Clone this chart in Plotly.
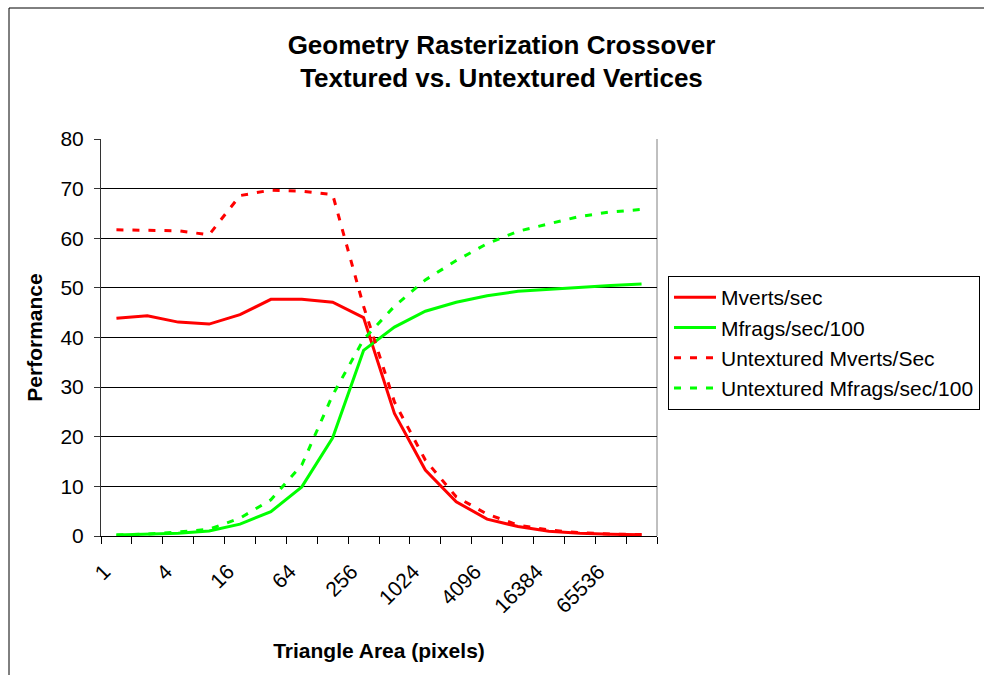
import plotly.graph_objects as go

# ---- data ----
areas = ["1", "2", "4", "8", "16", "32", "64", "128", "256", "512", "1024",
         "2048", "4096", "8192", "16384", "32768", "65536", "131072"]
mverts = [43.9, 44.4, 43.1, 42.7, 44.6, 47.7, 47.7, 47.1, 44.0, 24.7, 13.3,
          6.9, 3.4, 1.9, 0.95, 0.54, 0.34, 0.26]
mfrags = [0.2, 0.33, 0.54, 1.0, 2.4, 4.9, 9.9, 19.8, 37.4, 42.1, 45.3,
          47.1, 48.4, 49.3, 49.7, 50.2, 50.5, 50.8]
unt_mverts = [61.7, 61.6, 61.5, 60.7, 68.6, 69.7, 69.5, 68.8, 46.3, 27.0, 15.3,
              7.9, 4.4, 2.2, 1.2, 0.67, 0.4, 0.3]
unt_mfrags = [0.2, 0.4, 0.8, 1.35, 3.6, 7.3, 14.3, 28.4, 39.6, 46.3, 51.6,
              55.5, 58.9, 61.4, 62.9, 64.4, 65.3, 65.8]
series_names = ["Mverts/sec", "Mfrags/sec/100",
                "Untextured Mverts/Sec", "Untextured Mfrags/sec/100"]
label_every = 2

FONT = "Liberation Sans, Arial, Helvetica, sans-serif"
RED = "#FF0000"
GREEN = "#00FF00"
DASH = "7px,9px"

xidx = list(range(len(areas)))

fig = go.Figure()
for name, vals, color, dash in [
    (series_names[0], mverts, RED, "solid"),
    (series_names[1], mfrags, GREEN, "solid"),
    (series_names[2], unt_mverts, RED, DASH),
    (series_names[3], unt_mfrags, GREEN, DASH),
]:
    fig.add_trace(go.Scatter(
        x=xidx, y=vals, mode="lines", name=name,
        line=dict(color=color, width=3, dash=dash),
    ))

L, R, T, B = 101, 984 - 657, 139, 675 - 536
PW, PH = 984 - L - R, 675 - T - B

def px2paper_x(px):
    return (px - L) / PW

def px2paper_y(py):
    return (675 - B - py) / PH

fig.update_layout(
    width=984, height=675,
    margin=dict(l=L, r=R, t=T, b=B, pad=0, autoexpand=False),
    paper_bgcolor="white", plot_bgcolor="white",
    font=dict(family=FONT, color="black", size=21),
    title=dict(
        text="<b>Geometry Rasterization Crossover<br>Textured vs. Untextured Vertices</b>",
        font=dict(family=FONT, size=26, color="black"),
        x=501.5 / 984, xanchor="center", xref="container",
        y=1 - 53.5 / 675, yanchor="middle", yref="container",
    ),
    showlegend=True,
    legend=dict(
        x=px2paper_x(668), y=px2paper_y(276), xanchor="left", yanchor="top",
        bgcolor="white", bordercolor="black", borderwidth=1,
        font=dict(family=FONT, size=21, color="black"),
        itemwidth=42,
        tracegroupgap=0,
    ),
    xaxis=dict(
        range=[-0.5, len(areas) - 0.5],
        tickmode="array",
        tickvals=xidx[::label_every],
        ticktext=areas[::label_every],
        tickangle=-45,
        ticks="",
        showgrid=False, zeroline=False,
        showline=True, linecolor="black", linewidth=1,
        tickfont=dict(family=FONT, size=21, color="black"),
        ticklabelstandoff=14,
        ticklabelshift=-12,
        minor=dict(ticks="outside", tick0=-0.5, dtick=1, ticklen=7,
                   tickcolor="black", showgrid=False),
        title=dict(text="<b>Triangle Area (pixels)</b>",
                   font=dict(family=FONT, size=21, color="black"),
                   standoff=27),
        fixedrange=True,
    ),
    yaxis=dict(
        range=[0, 80], dtick=10, tick0=0,
        ticks="outside", ticklen=6, tickcolor="#333333",
        showgrid=True, gridcolor="black", gridwidth=1,
        zeroline=False,
        showline=True, linecolor="#333333", linewidth=1,
        tickfont=dict(family=FONT, size=21, color="black"),
        ticklabelstandoff=6,
        title=dict(text="<b>Performance</b>",
                   font=dict(family=FONT, size=21, color="black"),
                   standoff=12),
        fixedrange=True,
    ),
    shapes=[
        # right border of the plot area
        dict(type="line", xref="paper", yref="paper", x0=1, x1=1, y0=0, y1=1,
             line=dict(color="#808080", width=1), layer="below"),
        # outer chart frame (left and top edges visible)
        dict(type="line", xref="paper", yref="paper",
             x0=px2paper_x(9), x1=px2paper_x(9), y0=px2paper_y(8), y1=px2paper_y(700),
             line=dict(color="black", width=1), layer="below"),
        dict(type="line", xref="paper", yref="paper",
             x0=px2paper_x(9), x1=px2paper_x(1100), y0=px2paper_y(8), y1=px2paper_y(8),
             line=dict(color="black", width=1), layer="below"),
    ],
)

fig.write_html("out.html")
